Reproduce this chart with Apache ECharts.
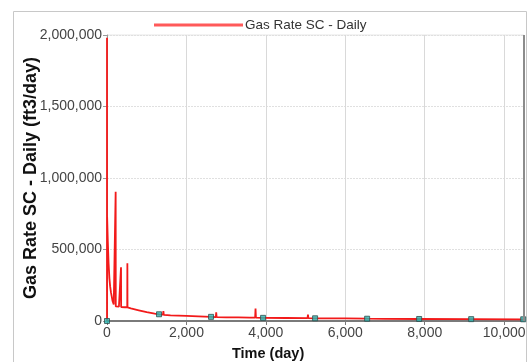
<!DOCTYPE html>
<html>
<head>
<meta charset="utf-8">
<script src="https://cdn.jsdelivr.net/npm/echarts@6/dist/echarts.min.js"></script>
<style>
html,body{margin:0;padding:0;background:#fff;}
#chart{width:532px;height:362px;}
</style>
</head>
<body>
<div id="chart"></div>
<script>
var seriesName = 'Gas Rate SC - Daily';
var xTitle = 'Time (day)';
var yTitle = 'Gas Rate SC - Daily (ft3/day)';

var timeDays = [0, 0, 1, 3, 20, 40, 60, 80, 100, 120, 140, 170, 205, 215, 218, 221, 225, 300, 350, 353, 356, 400, 450, 510, 513, 516, 600, 800, 1000, 1200, 1310, 1410, 1420, 1430, 1600, 2000, 2300, 2620, 2740, 2750, 2760, 3000, 3300, 3600, 3730, 3740, 3750, 3930, 4500, 5050, 5060, 5070, 5240, 6000, 6550, 7000, 7860, 9170, 10480, 10500];
var gasRate = [0, 1980000, 0, 729000, 560000, 403000, 300000, 240000, 200000, 170000, 140000, 115000, 105000, 104000, 904000, 102000, 101000, 100000, 99000, 375000, 98000, 97000, 96000, 96000, 403000, 95000, 88000, 75000, 62000, 52000, 47000, 44000, 70000, 43000, 40000, 36000, 33000, 29000, 27000, 60000, 27000, 26000, 25000, 24000, 23000, 88000, 23000, 22000, 21000, 20000, 45000, 20000, 19000, 18000, 16000, 15000, 14000, 13000, 12000, 12000];

var markerDays = [0, 1310, 2620, 3930, 5240, 6550, 7860, 9170, 10480];
var markerRates = [0, 47000, 29000, 22000, 19000, 16000, 14000, 13000, 12000];

var lineData = timeDays.map(function (t, i) { return [t, gasRate[i]]; });
var markData = markerDays.map(function (t, i) { return [t, markerRates[i]]; });

var chart = echarts.init(document.getElementById('chart'), null, {renderer: 'canvas'});
var fmt = function (v) { return Number(v).toLocaleString('en-US'); };

chart.setOption({
  animation: false,
  backgroundColor: '#ffffff',
  textStyle: {fontFamily: 'Liberation Sans, Arial, sans-serif'},
  legend: {
    data: [{name: seriesName, icon: 'rect'}],
    top: 13,
    left: 149,
    itemWidth: 89,
    itemHeight: 3,
    textStyle: {fontSize: 13.5, color: '#333', padding: [0, 0, 0, -3]},
    selectedMode: false
  },
  grid: {left: 107, right: 8, top: 35, bottom: 41, containLabel: false,
         show: true, borderColor: '#e6e6e6', borderWidth: 1},
  graphic: [
    {type: 'rect', shape: {x: 13.5, y: 11.5, width: 513, height: 360},
     style: {fill: null, stroke: '#c8c8c8', lineWidth: 1}, z: 0, silent: true},
    {type: 'line', shape: {x1: 524, y1: 35, x2: 524, y2: 321},
     style: {stroke: '#8c8c8c', lineWidth: 2}, z: 5, silent: true},
    {type: 'text', left: 232, top: 346,
     style: {text: xTitle, font: 'bold 14.5px Liberation Sans, Arial, sans-serif', fill: '#111'}, silent: true}
  ],
  xAxis: {
    type: 'value',
    min: 0, max: 10500, interval: 2000,
    axisLine: {show: true, onZero: false, lineStyle: {color: '#7a7a7a', width: 2}},
    axisTick: {show: true, length: 4, lineStyle: {color: '#7a7a7a'}},
    axisLabel: {formatter: fmt, fontSize: 14, color: '#444', margin: 5, showMaxLabel: false},
    splitLine: {show: true, lineStyle: {color: '#d9d9d9', width: 1}}
  },
  yAxis: {
    type: 'value',
    min: 0, max: 2000000, interval: 500000,
    name: yTitle,
    nameLocation: 'middle',
    nameGap: 67,
    nameMoveOverlap: false,
    nameTextStyle: {fontSize: 18, fontWeight: 'bold', color: '#111'},
    axisLine: {show: true, lineStyle: {color: '#9a9a9a', width: 1}},
    axisTick: {show: true, length: 4, lineStyle: {color: '#9a9a9a'}},
    axisLabel: {formatter: fmt, fontSize: 14, color: '#444', margin: 5},
    splitLine: {show: true, lineStyle: {color: '#e0e0e0', width: 1, type: [2, 1]}}
  },
  series: [
    {
      name: seriesName,
      type: 'line',
      data: lineData,
      showSymbol: false,
      symbol: 'none',
      color: '#ff5a5a',
      lineStyle: {color: '#f21a1a', width: 1.8},
      z: 3
    },
    {
      name: 'markers',
      type: 'scatter',
      data: markData,
      symbol: 'rect',
      symbolSize: 5,
      itemStyle: {color: '#2ab5b0', borderColor: '#2f4f4f', borderWidth: 1},
      z: 4
    }
  ]
});
</script>
</body>
</html>
